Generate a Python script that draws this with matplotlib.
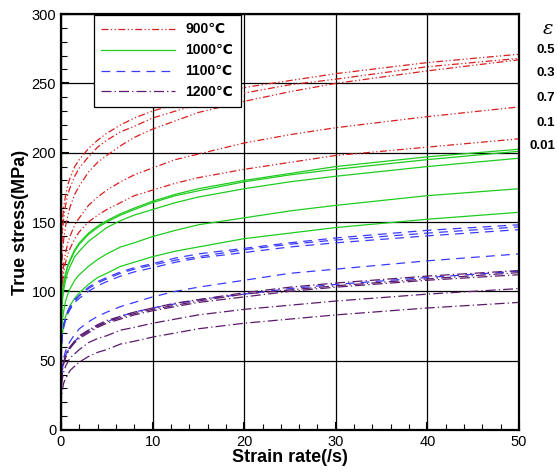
import numpy as np
import matplotlib
matplotlib.use('Agg')
import matplotlib.pyplot as plt
from matplotlib.ticker import MultipleLocator

plt.rcParams['font.family'] = ['Liberation Sans', 'DejaVu Sans']

# strain rate samples (1/s)
rate = [1e-5, 0.001, 0.01, 0.05, 0.15, 0.3, 0.5, 0.75, 1, 1.5, 2, 3, 4, 5,
        6.5, 8, 10, 12.5, 15, 20, 25, 30, 40, 50]

# true stress (MPa); rows = strain 0.5, 0.3, 0.7, 0.1, 0.01
red_900 = [
    [56, 90, 114, 134, 150, 161, 169, 177, 182, 190, 195, 203, 209, 214, 220, 225, 230, 235, 240, 247, 252, 257, 265, 271],
    [50, 82, 106, 126, 142, 153, 162, 170, 175, 183, 189, 197, 204, 209, 215, 219, 225, 230, 235, 243, 249, 253, 262, 268],
    [37, 66, 89, 110, 126, 138, 147, 155, 161, 170, 176, 186, 193, 198, 205, 211, 217, 223, 229, 237, 244, 250, 259, 267],
    [31, 57, 77, 95, 110, 120, 128, 135, 140, 148, 153, 162, 168, 173, 179, 184, 189, 195, 199, 207, 213, 218, 226, 233],
    [33, 57, 76, 92, 105, 114, 121, 127, 131, 138, 143, 150, 155, 159, 164, 169, 173, 178, 182, 188, 193, 198, 204, 210],
]
green_1000 = [
    [29, 51, 69, 84, 97, 106, 113, 119, 123, 130, 135, 142, 147, 151, 156, 160, 165, 170, 174, 180, 185, 190, 197, 202.5],
    [28, 51, 68, 84, 96, 105, 112, 118, 122, 129, 134, 141, 146, 150, 155, 159, 164, 169, 172.5, 179, 184, 188, 195, 201],
    [27, 49, 65, 80, 93, 101, 108, 114, 118, 125, 129, 136, 141, 146, 151, 155, 159, 164, 168, 174, 179, 183, 190, 196],
    [21, 40, 54, 68, 79, 86, 93, 98, 102, 108, 112, 118, 123, 127, 132, 135, 139.5, 144, 148, 153, 158, 162, 169, 174],
    [18, 34, 47, 59, 69, 76, 82, 86, 90, 95, 99, 105, 110, 113, 118, 121, 125, 129, 132, 138, 142, 146, 152, 157],
]
blue_1100 = [
    [20, 36, 49, 60, 70, 76, 81, 86, 89, 94, 97, 103, 107, 110, 114, 117, 120, 124, 127, 131, 135, 138.5, 144, 148],
    [20, 36, 49, 60, 69, 76, 81, 85, 88, 93, 97, 102, 106, 109, 113, 116, 119, 122.5, 125, 130, 134, 137, 142, 146.5],
    [19, 35, 48, 59, 68, 74, 79, 84, 87, 92, 95, 100, 104, 107, 111, 114, 117, 121, 124, 128, 132, 135, 140, 144.5],
    [9, 19, 29, 38, 46, 52, 57, 61, 64, 69, 73, 78, 82, 85, 89, 92, 96, 100, 103, 108, 113, 116, 122, 127],
    [9, 19, 28, 37, 44, 49, 54, 57, 60, 64, 67, 72, 75, 78, 82, 85, 88, 91, 94, 98, 102, 105, 110, 114.5],
]
purple_1200 = [
    [9, 19, 28, 37, 44, 49, 54, 58, 60, 64, 68, 72, 76, 79, 82, 85, 88, 91.5, 94, 99, 103, 106, 111, 115],
    [9, 19, 28, 36, 44, 49, 53, 57, 60, 64, 67, 71, 75, 78, 81, 84, 87, 90, 93, 98, 101, 104, 109, 113.5],
    [9, 19, 27, 36, 43, 48, 52, 56, 59, 63, 66, 70, 74, 77, 80, 83, 86, 89, 92, 96, 100, 103, 108, 112],
    [7, 16, 23, 31, 37, 42, 46, 49, 52, 55, 58, 63, 66, 68, 72, 74, 77, 80, 83, 87, 90, 93, 98, 102],
    [4, 11, 17, 24, 29, 34, 37, 40, 43, 46, 49, 53, 56, 58, 62, 64, 67, 70, 73, 77, 80, 83, 88, 92],
]

temps = ['900℃', '1000℃', '1100℃', '1200℃']
strain_labels = ['0.5', '0.3', '0.7', '0.1', '0.01']

groups = [red_900, green_1000, blue_1100, purple_1200]
colors = ['#d81e1e', '#1ecc1e', '#3a3aff', '#5b1a6b']
dashes = [(5.5, 2, 1, 2, 1, 2), (), (7, 5), (8, 2.5, 1, 2.5)]

fig = plt.figure(figsize=(5.57, 4.72), dpi=100)
ax = fig.add_axes([0.1095, 0.089, 0.8223, 0.8813])

for data, col, ds, lab in zip(groups, colors, dashes, temps):
    for i, ys in enumerate(data):
        line, = ax.plot(rate, ys, color=col, lw=0.9,
                        label=lab if i == 0 else None)
        if ds:
            line.set_dashes(ds)

ax.set_xlim(0, 50)
ax.set_ylim(0, 300)
ax.xaxis.set_major_locator(MultipleLocator(10))
ax.xaxis.set_minor_locator(MultipleLocator(2))
ax.yaxis.set_major_locator(MultipleLocator(50))
ax.yaxis.set_minor_locator(MultipleLocator(10))
ax.grid(True, which='major', color='black', lw=0.9)
ax.set_axisbelow(True)
ax.tick_params(which='both', direction='in', top=False, right=False, labelsize=10.5)
ax.tick_params(which='major', length=6, width=1.5)
ax.tick_params(which='minor', length=4, width=0.8)
for s in ax.spines.values():
    s.set_linewidth(1.6)

ax.set_xlabel('Strain rate(/s)', fontsize=13, fontweight='bold', labelpad=0)
ax.set_ylabel('True stress(MPa)', fontsize=13, fontweight='bold', labelpad=2)

leg = ax.legend(loc='upper left', bbox_to_anchor=(0.062, 1.008), fancybox=False,
                edgecolor='black', framealpha=1, handlelength=5.3,
                prop={'weight': 'bold', 'size': 10}, borderpad=0.55,
                labelspacing=0.5, handletextpad=0.75, borderaxespad=0.3)
leg.get_frame().set_linewidth(0.9)

# strain labels on the right
fig.text(553 / 557, 1 - 29 / 472, 'ε', ha='right', va='center', fontsize=14,
         style='italic', family='DejaVu Serif')
for k, s in enumerate(strain_labels):
    yp = [50, 73, 98, 122.5, 146][k]
    fig.text(555 / 557, 1 - yp / 472, s, ha='right', va='center',
             fontsize=9.5, fontweight='bold')

fig.savefig('out.png', dpi=100)
